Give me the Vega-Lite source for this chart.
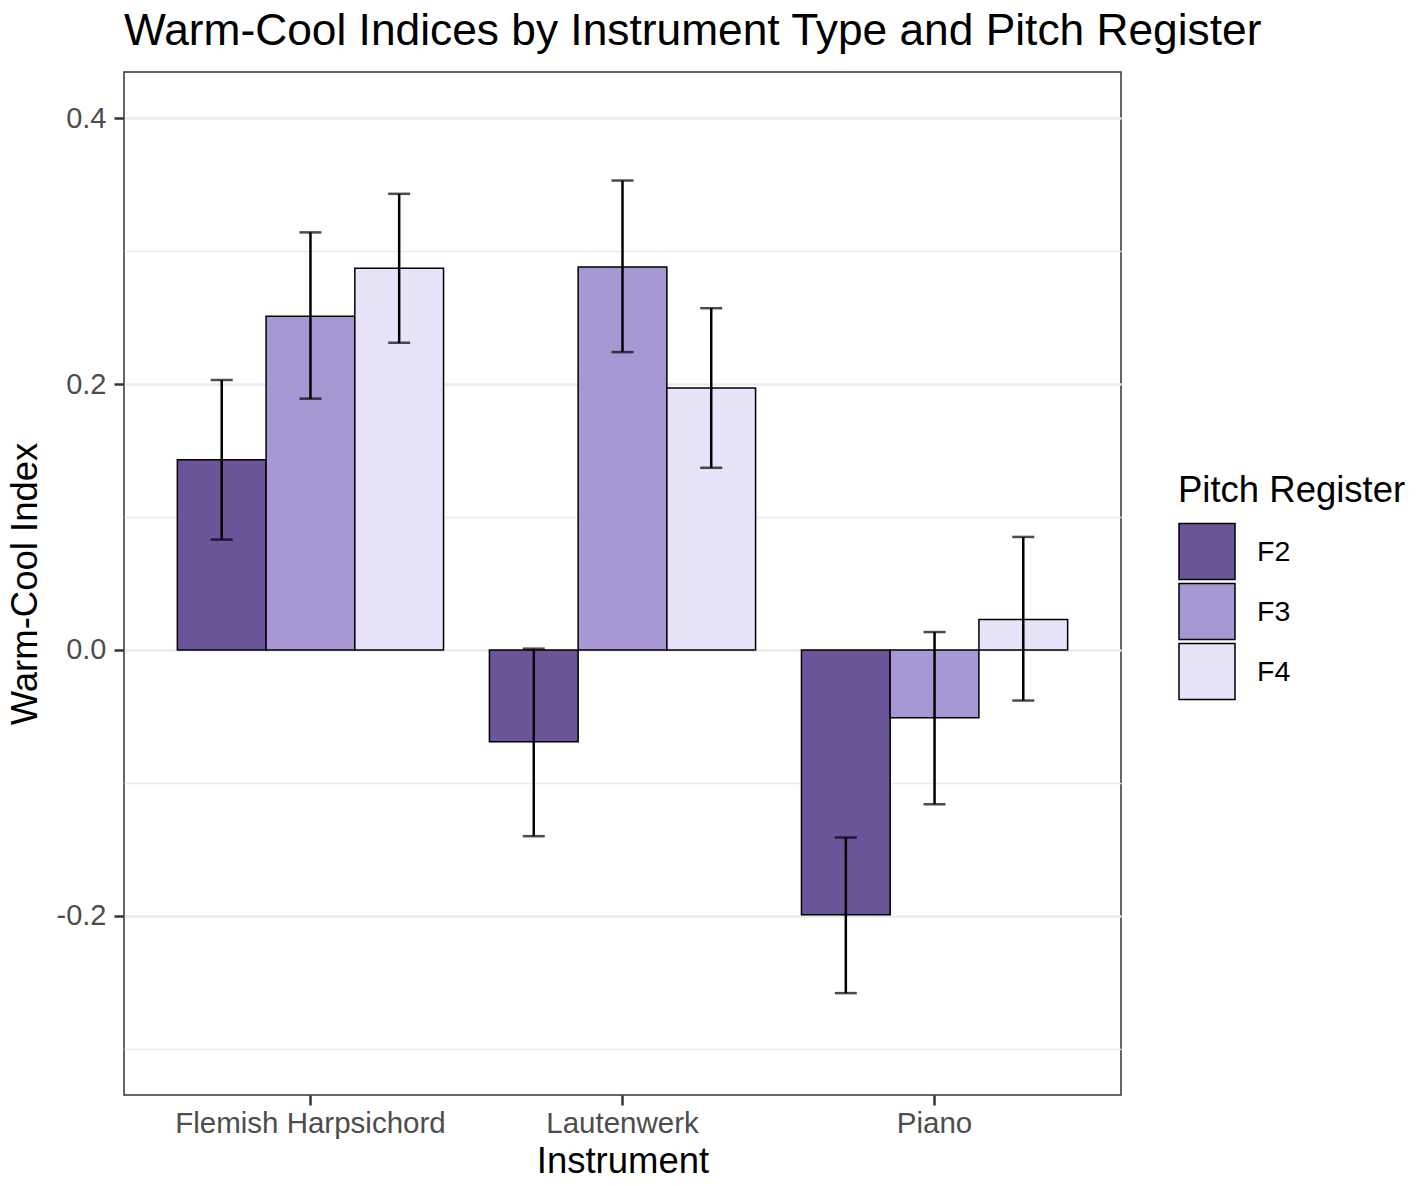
{
  "$schema": "https://vega.github.io/schema/vega-lite/v6.json",
  "width": 997,
  "height": 1023,
  "autosize": {"type": "none"},
  "padding": {"left": 124, "top": 72, "right": 297, "bottom": 91},
  "background": "white",
  "title": {
    "text": "Warm-Cool Indices by Instrument Type and Pitch Register",
    "anchor": "start",
    "frame": "group",
    "fontSize": 44.3,
    "font": "Liberation Sans",
    "fontWeight": "normal",
    "color": "black",
    "offset": 18
  },
  "config": {
    "font": "Liberation Sans",
    "view": {"stroke": "#333333", "strokeWidth": 1.5},
    "axis": {
      "domain": false,
      "gridColor": "#EBEBEB",
      "gridWidth": 2.5,
      "tickColor": "#333333",
      "tickWidth": 2.5,
      "tickSize": 10,
      "labelColor": "#4D4D4D",
      "labelFontSize": 29.5,
      "labelLimit": 0,
      "labelFont": "Liberation Sans",
      "titleFont": "Liberation Sans",
      "titleFontSize": 36.5,
      "titleFontWeight": "normal",
      "titleColor": "black"
    }
  },
  "data": {
    "values": [
      {"instrument": "Flemish Harpsichord", "register": "F2", "index": 0.143, "lo": 0.083, "hi": 0.203},
      {"instrument": "Flemish Harpsichord", "register": "F3", "index": 0.251, "lo": 0.189, "hi": 0.314},
      {"instrument": "Flemish Harpsichord", "register": "F4", "index": 0.287, "lo": 0.231, "hi": 0.343},
      {"instrument": "Lautenwerk", "register": "F2", "index": -0.069, "lo": -0.140, "hi": 0.001},
      {"instrument": "Lautenwerk", "register": "F3", "index": 0.288, "lo": 0.224, "hi": 0.353},
      {"instrument": "Lautenwerk", "register": "F4", "index": 0.197, "lo": 0.137, "hi": 0.257},
      {"instrument": "Piano", "register": "F2", "index": -0.199, "lo": -0.258, "hi": -0.141},
      {"instrument": "Piano", "register": "F3", "index": -0.051, "lo": -0.116, "hi": 0.0135},
      {"instrument": "Piano", "register": "F4", "index": 0.023, "lo": -0.038, "hi": 0.085}
    ]
  },
  "encoding": {
    "x": {
      "field": "instrument",
      "type": "nominal",
      "title": "Instrument",
      "scale": {"paddingInner": 0.147, "paddingOuter": 0.171},
      "axis": {"labelAngle": 0, "labelPadding": 4, "titlePadding": 6}
    },
    "xOffset": {"field": "register", "type": "nominal", "scale": {"padding": 0}}
  },
  "layer": [
    {
      "mark": {"type": "bar", "stroke": "black", "strokeWidth": 1.5},
      "encoding": {
        "y": {
          "field": "index",
          "type": "quantitative",
          "title": "Warm-Cool Index",
          "scale": {"domain": [-0.3346, 0.4346], "nice": false, "zero": false},
          "axis": {
            "values": [-0.3, -0.2, -0.1, 0, 0.1, 0.2, 0.3, 0.4],
            "labelExpr": "datum.value == 0 ? '0.0' : (abs(round(datum.value * 10)) % 2 == 0 ? replace(format(datum.value, '.1f'), '\u2212', '-') : '')",
            "gridWidth": {"condition": {"test": "abs(round(datum.value * 10)) % 2 == 1", "value": 1.3}, "value": 2.5},
            "tickOpacity": {"condition": {"test": "abs(round(datum.value * 10)) % 2 == 1", "value": 0}, "value": 1},
            "labelPadding": 8,
            "labelFontSize": 29,
            "titlePadding": 12
          }
        },
        "fill": {
          "field": "register",
          "type": "nominal",
          "title": "Pitch Register",
          "scale": {"domain": ["F2", "F3", "F4"], "range": ["#6A5599", "#A797D5", "#E8E3F8"]},
          "legend": {
            "orient": "none",
            "legendX": 1054,
            "legendY": 401,
            "symbolType": "square",
            "symbolSize": 3136,
            "symbolStrokeColor": "black",
            "symbolStrokeWidth": 1.5,
            "symbolOpacity": 1,
            "titleFontSize": 36.5,
            "titleFontWeight": "normal",
            "titleColor": "black",
            "titleLimit": 0,
            "titlePadding": 13,
            "labelFontSize": 28.5,
            "labelColor": "black",
            "labelLimit": 0,
            "labelOffset": 21,
            "rowPadding": -4
          }
        }
      }
    },
    {
      "mark": {"type": "rule", "color": "black", "strokeWidth": 2.5},
      "encoding": {
        "y": {"field": "lo", "type": "quantitative"},
        "y2": {"field": "hi"}
      }
    },
    {
      "mark": {"type": "tick", "color": "black", "thickness": 2.5, "size": 22},
      "encoding": {"y": {"field": "lo", "type": "quantitative"}}
    },
    {
      "mark": {"type": "tick", "color": "black", "thickness": 2.5, "size": 22},
      "encoding": {"y": {"field": "hi", "type": "quantitative"}}
    }
  ]
}
